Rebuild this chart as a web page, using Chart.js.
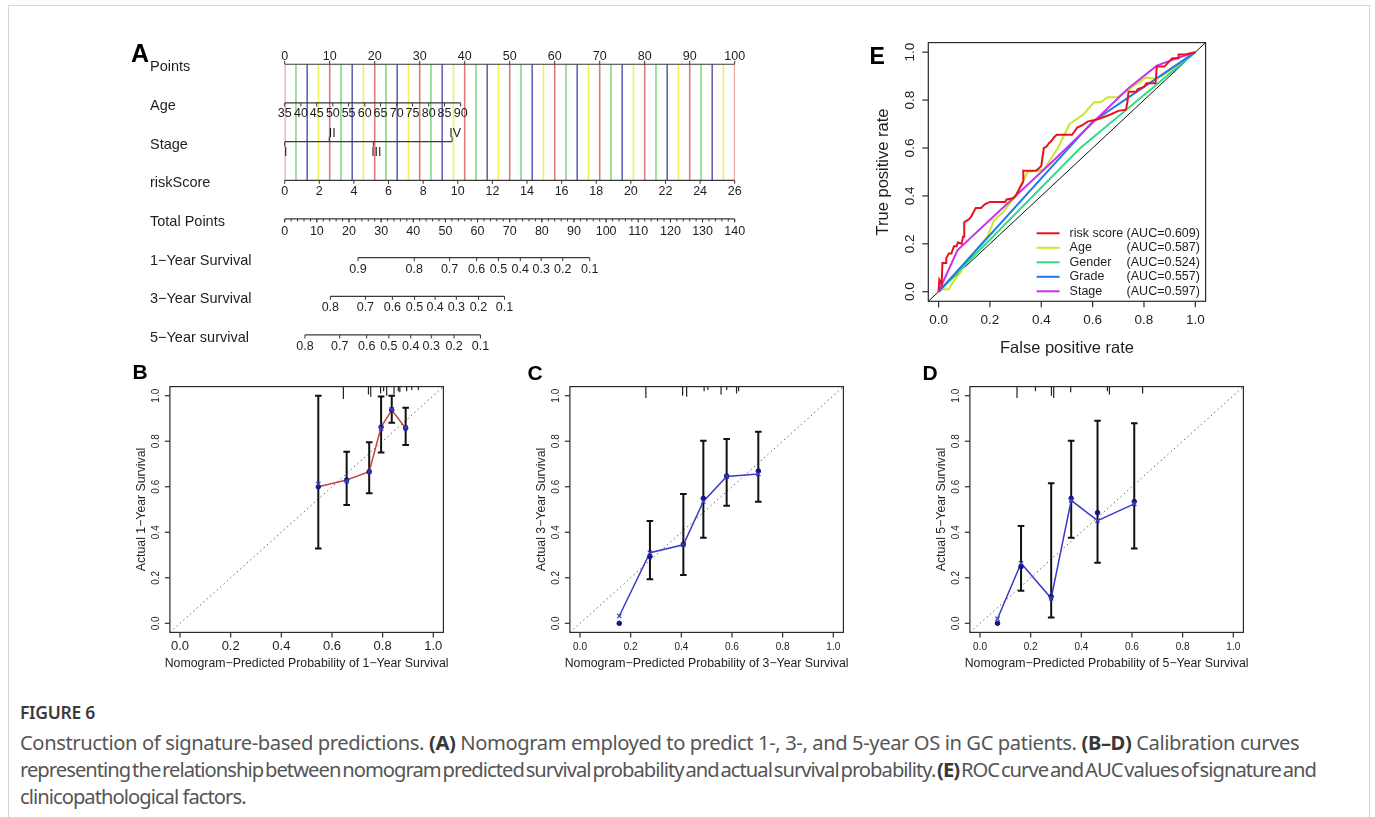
<!DOCTYPE html>
<html>
<head>
<meta charset="utf-8">
<title>Figure 6</title>
<script src="https://cdn.jsdelivr.net/npm/chart.js@4.4.1/dist/chart.umd.min.js"></script>
<style>
  body { margin:0; width:1375px; height:817px; overflow:hidden; background:#fff; position:relative; }
  .card { position:absolute; left:8px; top:5px; width:1362px; height:840px; border:1.5px solid #d6d6d6; box-sizing:border-box; }
  canvas { position:absolute; }
  .fig { position:absolute; left:20px; top:699px; font:600 17.5px "Noto Sans", sans-serif; color:#3a3a3a; line-height:27px; letter-spacing:-0.3px; }
  .cap { position:absolute; left:20px; top:729px; font:17.5px "Noto Sans", sans-serif; color:#555; line-height:27px; letter-spacing:-0.35px; }
  .cap span { display:block; white-space:nowrap; width:max-content; }
  .cap b { color:#383838; }
</style>
</head>
<body>
<div class="card"></div>
<canvas id="nomo" width="680" height="340" style="left:120px;top:20px"></canvas>
<canvas id="roc" width="360" height="350" style="left:860px;top:15px"></canvas>
<canvas id="calB" width="340" height="320" style="left:120px;top:360px"></canvas>
<canvas id="calC" width="340" height="320" style="left:520px;top:360px"></canvas>
<canvas id="calD" width="340" height="320" style="left:920px;top:360px"></canvas>
<div class="fig">FIGURE 6</div>
<div class="cap">
<span id="cap1">Construction of signature-based predictions. <b>(A)</b> Nomogram employed to predict 1-, 3-, and 5-year OS in GC patients. <b>(B–D)</b> Calibration curves</span>
<span id="cap2">representing the relationship between nomogram predicted survival probability and actual survival probability. <b>(E)</b> ROC curve and AUC values of signature and</span>
<span id="cap3">clinicopathological factors.</span>
</div>
<script>
const font = '"Liberation Sans", Arial, sans-serif';

// ---- A: nomogram ----
const rowNames = ['Points', 'Age', 'Stage', 'riskScore', 'Total Points',
  '1\u2212Year Survival', '3\u2212Year Survival', '5\u2212Year survival'];
const pointTicks = [0, 10, 20, 30, 40, 50, 60, 70, 80, 90, 100];
const ageTicks = [35, 40, 45, 50, 55, 60, 65, 70, 75, 80, 85, 90];
const agePoints = [0, 3.6, 7.1, 10.7, 14.2, 17.8, 21.3, 24.9, 28.4, 32.0, 35.5, 39.1];
const stageTicks = ['I', 'II', 'III', 'IV'];
const stagePoints = [0, 9.9, 19.7, 37.2];
const riskTicks = [0, 2, 4, 6, 8, 10, 12, 14, 16, 18, 20, 22, 24, 26];
const riskMax = 26;
const totalTicks = [0, 10, 20, 30, 40, 50, 60, 70, 80, 90, 100, 110, 120, 130, 140];
const totalMax = 140;
const surv1 = [0.9, 0.8, 0.7, 0.6, 0.5, 0.4, 0.3, 0.2, 0.1];
const surv1Total = [22.8, 40.3, 51.3, 59.7, 66.5, 73.3, 79.8, 86.5, 94.9];
const surv3 = [0.8, 0.7, 0.6, 0.5, 0.4, 0.3, 0.2, 0.1];
const surv3Total = [14.2, 25.1, 33.5, 40.4, 46.8, 53.4, 60.3, 68.4];
const surv5 = [0.8, 0.7, 0.6, 0.5, 0.4, 0.3, 0.2, 0.1];
const surv5Total = [6.3, 17.1, 25.5, 32.4, 39.2, 45.6, 52.7, 60.9];
const guideColors = ['rgba(214,90,90,0.8)', 'rgba(90,205,90,0.75)', 'rgba(60,60,165,0.8)', 'rgba(238,238,70,0.9)'];

// ---- E: ROC ----
const rocNames = ['risk score', 'Age', 'Gender', 'Grade', 'Stage'];
const rocAUC = ['0.609', '0.587', '0.524', '0.557', '0.597'];
const rocColors = ['#E8121C', '#C9E62C', '#2EDD86', '#1F78E6', '#C932EC'];
const riskFpr = [0, 0.003, 0.012, 0.015, 0.03, 0.03, 0.04, 0.05, 0.06, 0.07, 0.075, 0.09, 0.095, 0.1, 0.1, 0.115, 0.125, 0.135, 0.145, 0.165, 0.18, 0.2, 0.26, 0.265, 0.29, 0.3, 0.31, 0.32, 0.33, 0.33, 0.38, 0.39, 0.4, 0.41, 0.42, 0.43, 0.44, 0.45, 0.46, 0.52, 0.53, 0.54, 0.56, 0.58, 0.62, 0.67, 0.7, 0.73, 0.735, 0.74, 0.77, 0.775, 0.8, 0.81, 0.845, 0.85, 0.88, 0.91, 0.935, 0.935, 0.96, 1];
const riskTpr = [0, 0.05, 0.03, 0.12, 0.12, 0.14, 0.16, 0.16, 0.19, 0.19, 0.205, 0.2, 0.23, 0.23, 0.29, 0.3, 0.31, 0.33, 0.35, 0.35, 0.365, 0.375, 0.375, 0.385, 0.39, 0.4, 0.42, 0.44, 0.46, 0.505, 0.505, 0.515, 0.525, 0.6, 0.605, 0.62, 0.63, 0.645, 0.655, 0.655, 0.67, 0.685, 0.695, 0.71, 0.72, 0.74, 0.755, 0.76, 0.79, 0.835, 0.835, 0.845, 0.855, 0.87, 0.87, 0.94, 0.94, 0.975, 0.975, 0.99, 0.99, 1];
const ageFpr = [0, 0.015, 0.04, 0.05, 0.087, 0.12, 0.15, 0.19, 0.217, 0.25, 0.3, 0.347, 0.41, 0.465, 0.51, 0.562, 0.606, 0.632, 0.658, 0.697, 0.775, 0.807, 0.84, 0.87, 0.95, 1];
const ageTpr = [0, 0.01, 0.01, 0.03, 0.084, 0.14, 0.18, 0.23, 0.3, 0.33, 0.4, 0.5, 0.51, 0.6, 0.7, 0.738, 0.791, 0.791, 0.812, 0.812, 0.87, 0.894, 0.89, 0.9, 0.96, 1];
const genderFpr = [0, 0.55, 1];
const genderTpr = [0, 0.598, 1];
const gradeFpr = [0, 0.6, 1];
const gradeTpr = [0, 0.71, 1];
const stageFpr = [0, 0.074, 0.45, 0.736, 0.85, 0.93, 1];
const stageTpr = [0, 0.174, 0.55, 0.846, 0.944, 0.975, 1];

// ---- B-D: calibration ----
const calTicks = [0, 0.2, 0.4, 0.6, 0.8, 1.0];
const predB = [0.546, 0.658, 0.747, 0.794, 0.836, 0.891];
const obsB = [0.60, 0.63, 0.666, 0.862, 0.937, 0.857];
const corrB = [0.612, 0.625, 0.666, 0.855, 0.94, 0.86];
const loB = [0.329, 0.52, 0.571, 0.75, 0.881, 0.783];
const hiB = [1.0, 0.754, 0.795, 0.996, 1.0, 0.947];
const rugXB = [0.645, 0.744, 0.753, 0.792, 0.804, 0.816, 0.845, 0.862, 0.868, 0.895, 0.915, 0.941];
const rugHB = [0.055, 0.035, 0.045, 0.03, 0.02, 0.04, 0.035, 0.02, 0.025, 0.02, 0.015, 0.015];

const predC = [0.155, 0.276, 0.408, 0.487, 0.579, 0.704];
const obsC = [0.0, 0.293, 0.348, 0.549, 0.647, 0.669];
const corrC = [0.032, 0.31, 0.345, 0.535, 0.645, 0.656];
const loC = [null, 0.193, 0.212, 0.376, 0.517, 0.534];
const hiC = [null, 0.449, 0.568, 0.802, 0.81, 0.842];
const rugXC = [0.26, 0.405, 0.421, 0.49, 0.505, 0.557, 0.579, 0.618, 0.626];
const rugHC = [0.05, 0.04, 0.045, 0.02, 0.015, 0.035, 0.015, 0.03, 0.02];

const predD = [0.069, 0.162, 0.281, 0.36, 0.464, 0.609];
const obsD = [0.0, 0.249, 0.117, 0.549, 0.486, 0.535];
const corrD = [0.02, 0.264, 0.11, 0.54, 0.451, 0.525];
const loD = [null, 0.143, 0.025, 0.376, 0.266, 0.329];
const hiD = [null, 0.427, 0.615, 0.802, 0.89, 0.879];
const rugXD = [0.146, 0.219, 0.282, 0.291, 0.358, 0.503, 0.511, 0.642];
const rugHD = [0.05, 0.02, 0.04, 0.05, 0.025, 0.02, 0.035, 0.03];

const zip = (xs, ys) => xs.map((v, i) => ({x: v, y: ys[i]}));
const base = {responsive: false, animation: false, devicePixelRatio: 1, events: []};

// panel letter, shared
function drawLetter(ctx, l) {
  ctx.save();
  ctx.font = 'bold ' + l.size + 'px ' + font;
  ctx.fillStyle = '#000';
  ctx.textAlign = 'left';
  ctx.textBaseline = 'alphabetic';
  ctx.fillText(l.t, l.x, l.y);
  ctx.restore();
}

// nomogram scales, labels and ticks
const nomoDraw = {
  id: 'nomoDraw',
  afterDatasetsDraw(chart, args, o) {
    const {ctx, scales: {x, y}} = chart;
    const px = v => x.getPixelForValue(v);
    const py = r => y.getPixelForValue(r);
    ctx.save();
    ctx.strokeStyle = '#333';
    ctx.lineWidth = 1;
    ctx.fillStyle = '#1e1e1e';
    ctx.textAlign = 'center';
    ctx.textBaseline = 'middle';
    ctx.font = '12.5px ' + font;
    const row = (r, pts, labels, dir, off) => {
      pts.forEach((v, i) => {
        const X = px(v), Y = py(r);
        ctx.beginPath(); ctx.moveTo(X, Y); ctx.lineTo(X, Y + dir * 3.5); ctx.stroke();
        ctx.fillText(String(labels[i]), X, Y + off);
      });
    };
    row(0, pointTicks, pointTicks, -1, -7.5);
    row(1, agePoints, ageTicks, 1, 11);
    stagePoints.forEach((v, i) => {
      const up = i % 2 === 1;
      const X = px(v), Y = py(2);
      ctx.beginPath(); ctx.moveTo(X, Y); ctx.lineTo(X, Y + (up ? -5 : 5)); ctx.stroke();
      ctx.fillText(stageTicks[i], X + (i === 0 ? 1 : 3), Y + (up ? -8.5 : 10.5));
    });
    row(3, riskTicks.map(v => v * 100 / riskMax), riskTicks, 1, 11.5);
    // total points: minor ticks every 2
    for (let t = 0; t <= totalMax; t += 2) {
      const X = px(t * 100 / totalMax), Y = py(4);
      ctx.beginPath(); ctx.moveTo(X, Y); ctx.lineTo(X, Y + 2.5); ctx.stroke();
    }
    row(4, totalTicks.map(v => v * 100 / totalMax), totalTicks, 1, 13);
    row(5, surv1Total.map(v => v * 100 / totalMax), surv1, 1, 11.5);
    row(6, surv3Total.map(v => v * 100 / totalMax), surv3, 1, 11.5);
    row(7, surv5Total.map(v => v * 100 / totalMax), surv5, 1, 11.5);
    ctx.textAlign = 'left';
    ctx.font = '14.5px ' + font;
    rowNames.forEach((n, i) => ctx.fillText(n, 30, py(i) + 3));
    ctx.restore();
    drawLetter(ctx, o.letter);
  }
};

const nomoSets = [];
const axisLine = (r, a, b) => nomoSets.push({data: [{x: a, y: r}, {x: b, y: r}], borderColor: '#3a3a3a', borderWidth: 1.2, order: 0});
axisLine(0, 0, 100);
axisLine(1, agePoints[0], agePoints[agePoints.length - 1]);
axisLine(2, stagePoints[0], stagePoints[stagePoints.length - 1]);
axisLine(3, 0, 100);
axisLine(4, 0, 100);
axisLine(5, surv1Total[0] * 100 / totalMax, surv1Total[surv1Total.length - 1] * 100 / totalMax);
axisLine(6, surv3Total[0] * 100 / totalMax, surv3Total[surv3Total.length - 1] * 100 / totalMax);
axisLine(7, surv5Total[0] * 100 / totalMax, surv5Total[surv5Total.length - 1] * 100 / totalMax);
for (let k = 0; k <= 40; k++) {
  nomoSets.push({data: [{x: k * 2.5, y: 0}, {x: k * 2.5, y: 3}], borderColor: guideColors[k % 4], borderWidth: 1.6, order: 1});
}

new Chart(document.getElementById('nomo'), {
  type: 'line',
  data: {datasets: nomoSets},
  options: {
    ...base,
    layout: {padding: {left: 164.7, right: 65.3, top: 5.6, bottom: 5.7}},
    elements: {point: {radius: 0}},
    scales: {
      x: {type: 'linear', min: 0, max: 100, display: false},
      y: {type: 'linear', min: -1, max: 7.5, reverse: true, display: false}
    },
    plugins: {legend: {display: false}, tooltip: {enabled: false},
      nomoDraw: {letter: {t: 'A', x: 11, y: 41.5, size: 25}}}
  },
  plugins: [nomoDraw]
});

// R-style box, ticks and titles
const rAxes = {
  id: 'rAxes',
  afterDatasetsDraw(chart, args, o) {
    const {ctx, chartArea: a, scales: {x, y}} = chart;
    ctx.save();
    ctx.strokeStyle = '#2b2b2b';
    ctx.lineWidth = 1.2;
    ctx.fillStyle = '#1e1e1e';
    ctx.strokeRect(a.left, a.top, a.right - a.left, a.bottom - a.top);
    ctx.textAlign = 'center';
    ctx.textBaseline = 'middle';
    ctx.font = o.xFont + 'px ' + font;
    o.ticks.forEach(v => {
      const X = x.getPixelForValue(v);
      ctx.beginPath(); ctx.moveTo(X, a.bottom); ctx.lineTo(X, a.bottom + o.tick); ctx.stroke();
      ctx.fillText(v.toFixed(1), X, a.bottom + o.xOff);
    });
    ctx.font = o.yFont + 'px ' + font;
    o.ticks.forEach(v => {
      const Y = y.getPixelForValue(v);
      ctx.beginPath(); ctx.moveTo(a.left, Y); ctx.lineTo(a.left - o.tick, Y); ctx.stroke();
      ctx.save(); ctx.translate(a.left - o.yOff, Y); ctx.rotate(-Math.PI / 2);
      ctx.fillText(v.toFixed(1), 0, 0); ctx.restore();
    });
    ctx.font = o.titleFont + 'px ' + font;
    ctx.fillText(o.xTitle, (a.left + a.right) / 2, a.bottom + o.xTitleOff);
    ctx.save(); ctx.translate(a.left - o.yTitleOff, (a.top + a.bottom) / 2); ctx.rotate(-Math.PI / 2);
    ctx.fillText(o.yTitle, 0, 0); ctx.restore();
    ctx.restore();
    drawLetter(ctx, o.letter);
  }
};

const rocLegend = {
  id: 'rocLegend',
  afterDatasetsDraw(chart) {
    const {ctx, chartArea: a} = chart;
    ctx.save();
    ctx.font = '12.5px ' + font;
    ctx.textBaseline = 'middle';
    ctx.textAlign = 'left';
    rocNames.forEach((n, i) => {
      const Y = a.bottom - 10 - (rocNames.length - 1 - i) * 14.5;
      ctx.strokeStyle = rocColors[i];
      ctx.lineWidth = 2;
      ctx.beginPath(); ctx.moveTo(a.right - 169, Y); ctx.lineTo(a.right - 146, Y); ctx.stroke();
      ctx.fillStyle = '#1e1e1e';
      ctx.fillText(n, a.right - 136, Y);
      ctx.fillText('(AUC=' + rocAUC[i] + ')', a.right - 79, Y);
    });
    ctx.restore();
  }
};

const rocSeries = [[riskFpr, riskTpr], [ageFpr, ageTpr], [genderFpr, genderTpr], [gradeFpr, gradeTpr], [stageFpr, stageTpr]];
const rocSets = rocSeries.map((s, i) => ({
  label: rocNames[i], data: zip(s[0], s[1]), borderColor: rocColors[i], borderWidth: 2, order: i === 0 ? 0 : 5 - i
}));
rocSets.push({label: 'ref', data: [{x: -0.04, y: -0.04}, {x: 1.04, y: 1.04}], borderColor: '#111', borderWidth: 1, order: 10});

new Chart(document.getElementById('roc'), {
  type: 'line',
  data: {datasets: rocSets},
  options: {
    ...base,
    layout: {padding: {left: 68.3, right: 14.4, top: 27.6, bottom: 63.7}},
    elements: {point: {radius: 0}, line: {tension: 0}},
    scales: {
      x: {type: 'linear', min: -0.04, max: 1.04, display: false},
      y: {type: 'linear', min: -0.04, max: 1.04, display: false}
    },
    plugins: {legend: {display: false}, tooltip: {enabled: false},
      rAxes: {ticks: calTicks, tick: 6, xFont: 13.5, yFont: 13.5, xOff: 19, yOff: 18.3, titleFont: 16.5,
        xTitle: 'False positive rate', yTitle: 'True positive rate', xTitleOff: 46.7, yTitleOff: 45.3,
        letter: {t: 'E', x: 9.5, y: 48.5, size: 23}}}
  },
  plugins: [rAxes, rocLegend]
});

const capW = 0.013;
function calib(id, letter, yr, xFont, pred, obs, corr, lo, hi, rugX, rugH, lineVals, lineColor) {
  const bars = [];
  pred.forEach((p, i) => {
    if (lo[i] === null) return;
    bars.push({x: p, y: lo[i]}, {x: p, y: hi[i]}, {x: p, y: null},
      {x: p - capW, y: lo[i]}, {x: p + capW, y: lo[i]}, {x: p, y: null},
      {x: p - capW, y: hi[i]}, {x: p + capW, y: hi[i]}, {x: p, y: null});
  });
  const rug = [];
  rugX.forEach((r, i) => rug.push({x: r, y: 1.04}, {x: r, y: 1.04 - rugH[i]}, {x: r, y: null}));
  new Chart(document.getElementById(id), {
    type: 'line',
    data: {datasets: [
      {data: zip(pred, corr), showLine: false, pointStyle: 'crossRot', pointRadius: 3, borderColor: '#3b3bd0', borderWidth: 1.3, order: 0},
      {data: zip(pred, obs), showLine: false, pointStyle: 'circle', pointRadius: 2.3, backgroundColor: '#16167a', borderColor: '#16167a', order: 1},
      {data: zip(pred, lineVals), borderColor: lineColor, borderWidth: 1.5, order: 2},
      {data: bars, borderColor: '#111', borderWidth: 2, order: 3},
      {data: rug, borderColor: '#222', borderWidth: 1.2, order: 4},
      {data: [{x: -0.04, y: -0.04}, {x: 1.04, y: 1.04}], borderColor: '#666', borderWidth: 1, borderDash: [1.5, 3], order: 5}
    ]},
    options: {
      ...base,
      layout: {padding: {left: 49.9, right: 16.6, top: 26.6, bottom: 47.6}},
      elements: {point: {radius: 0}, line: {tension: 0}},
      scales: {
        x: {type: 'linear', min: -0.04, max: 1.04, display: false},
        y: {type: 'linear', min: -0.04, max: 1.04, display: false}
      },
      plugins: {legend: {display: false}, tooltip: {enabled: false},
        rAxes: {ticks: calTicks, tick: 5, xFont: xFont, yFont: 10, xOff: 14.5, yOff: 13.3, titleFont: 12.3,
          xTitle: 'Nomogram\u2212Predicted Probability of ' + yr + '\u2212Year Survival',
          yTitle: 'Actual ' + yr + '\u2212Year Survival', xTitleOff: 31, yTitleOff: 28.3, letter: letter}}
    },
    plugins: [rAxes]
  });
}

calib('calB', {t: 'B', x: 12.5, y: 18.5, size: 21}, 1, 13, predB, obsB, corrB, loB, hiB, rugXB, rugHB, obsB, '#C4463F');
calib('calC', {t: 'C', x: 7.5, y: 20, size: 21}, 3, 10, predC, obsC, corrC, loC, hiC, rugXC, rugHC, corrC, '#3b3bc8');
calib('calD', {t: 'D', x: 2.5, y: 20, size: 21}, 5, 10, predD, obsD, corrD, loD, hiD, rugXD, rugHD, corrD, '#3b3bc8');

// caption: size the font so line 1 fills its width, then squeeze lines 2-3
const cap = document.querySelector('.cap');
const cap1 = document.getElementById('cap1'), cap2 = document.getElementById('cap2'), cap3 = document.getElementById('cap3');
const k = 1280 / cap1.getBoundingClientRect().width;
cap.style.fontSize = (17.5 * k).toFixed(2) + 'px';
cap.style.letterSpacing = (-0.35 * k).toFixed(3) + 'px';
cap2.style.wordSpacing = '-2.5px';
const w2 = cap2.getBoundingClientRect().width;
const ls = -0.35 * k + (1296 - w2) / cap2.textContent.length;
cap2.style.letterSpacing = ls.toFixed(3) + 'px';
cap3.style.letterSpacing = ls.toFixed(3) + 'px';
</script>
</body>
</html>
